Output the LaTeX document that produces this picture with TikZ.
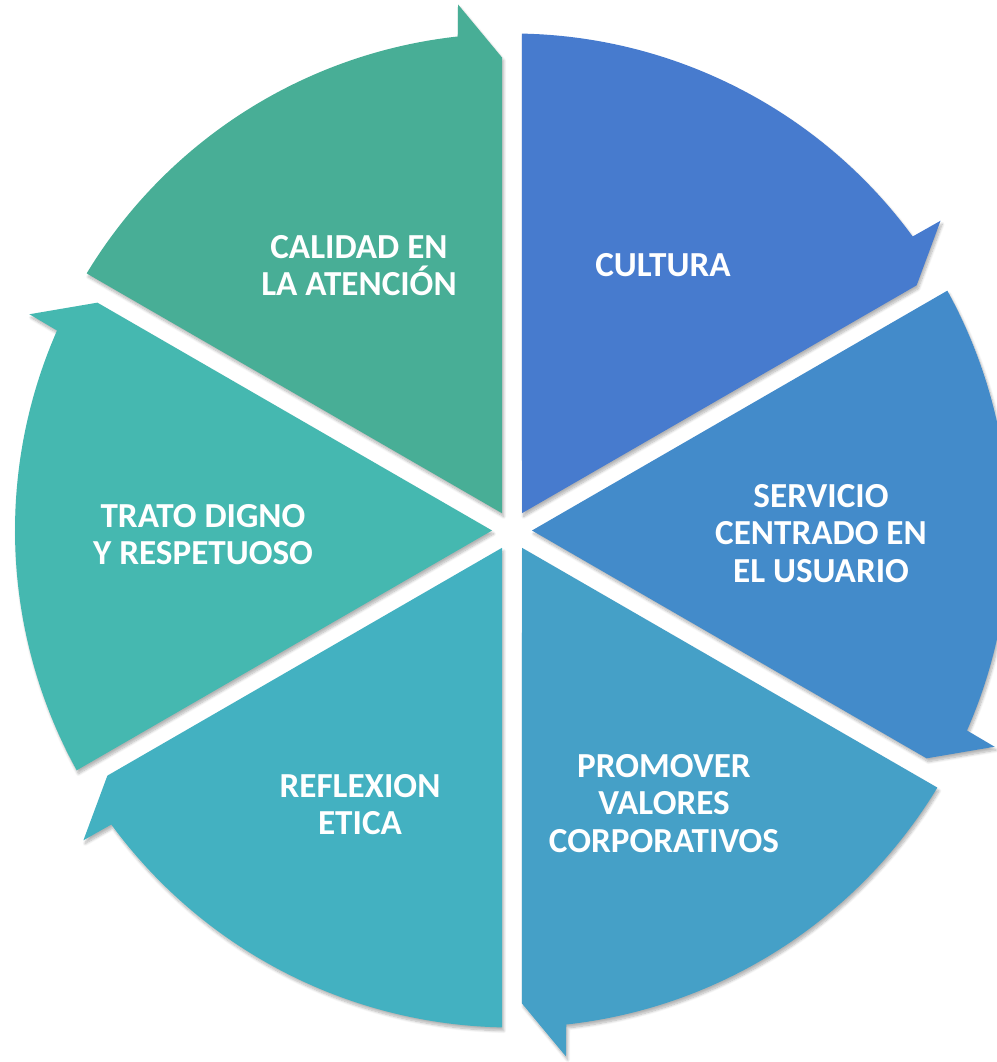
\documentclass[tikz,border=0pt]{standalone}
\usepackage{fontspec}
\setmainfont{Carlito}
\usetikzlibrary{shadows.blur}

\definecolor{calidad}{RGB}{72,174,150}
\definecolor{cultura}{RGB}{71,123,206}
\definecolor{servicio}{RGB}{67,139,202}
\definecolor{promover}{RGB}{69,160,199}
\definecolor{reflexion}{RGB}{67,177,193}
\definecolor{trato}{RGB}{69,184,176}

\tikzset{
  segment/.style={fill=#1, draw=none,
    blur shadow={shadow xshift=1.2pt, shadow yshift=-2.4pt, shadow blur steps=8, shadow opacity=30}},
  seglabel/.style={text=white, font=\bfseries\fontsize{25}{26.5}\selectfont, align=center}
}

\begin{document}
\begin{tikzpicture}[x=0.025cm, y=0.025cm]
  % Variables
  \def \R   {497}

  % Frame
  \useasboundingbox (-512,-531.5) rectangle (484,530.5);

  % Segments
  \foreach \k/\col [evaluate=\k as \a using -60*\k] in {0/calidad,1/cultura,2/servicio,3/promover,4/reflexion,5/trato}{
    \fill[segment=\col] (120+\a:20) -- (148.85+\a:\R)
      arc[start angle=148.85+\a, end angle=96.27+\a, radius=\R]
      -- (95.86+\a:528.8) -- (91.21+\a:473.1) -- cycle;
  }

  % Labels
  \node[seglabel] (calidad)   at (-153,265)  {CALIDAD EN\\LA ATENCIÓN};
  \node[seglabel] (cultura)   at (151,265)   {CULTURA};
  \node[seglabel] (servicio)  at (309,-3)    {SERVICIO\\CENTRADO EN\\EL USUARIO};
  \node[seglabel] (promover)  at (152,-273)  {PROMOVER\\VALORES\\CORPORATIVOS};
  \node[seglabel] (reflexion) at (-152,-274) {REFLEXION\\ETICA};
  \node[seglabel] (trato)     at (-309,-4)   {TRATO DIGNO\\Y RESPETUOSO};

\end{tikzpicture}
\end{document}
